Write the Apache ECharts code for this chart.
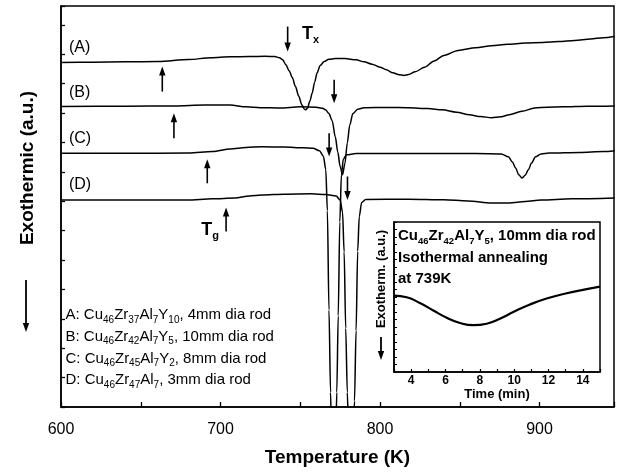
<!DOCTYPE html>
<html><head><meta charset="utf-8">
<script src="https://cdn.jsdelivr.net/npm/echarts@6/dist/echarts.min.js"></script>
<style>html,body{margin:0;padding:0;background:#fff}#c{width:621px;height:474px}</style>
</head><body><div id="c"></div>
<script>
// ---- data (Temperature K, exothermic signal a.u., curves offset) ----
const curveA = [[600,11.72],[620,11.73],[640,11.74],[661,11.75],[680,11.82],[694,11.88],[706,11.91],[718,11.92],[728,11.93],[734,11.92],[737,11.88],[739,11.81],[741,11.64],[743,11.44],[745,11.21],[747,10.90],[749,10.58],[751,10.28],[752.5,10.14],[753.5,10.11],[754.5,10.16],[756,10.40],[757.5,10.68],[759,11.05],[760.6,11.37],[762.5,11.62],[765,11.75],[768,11.83],[772,11.85],[778,11.85],[785,11.81],[790,11.74],[795,11.66],[800,11.56],[804,11.47],[808,11.37],[812,11.30],[815,11.28],[818,11.31],[822,11.40],[828,11.56],[834,11.77],[840,11.96],[849,12.13],[860,12.22],[870,12.29],[880,12.34],[891,12.38],[902,12.40],[912,12.43],[922,12.47],[932,12.52],[940,12.56],[947,12.60]];
const curveB = [[600,10.22],[640,10.23],[671,10.24],[690,10.27],[706,10.27],[716,10.21],[725,10.18],[737,10.17],[750,10.21],[760,10.20],[764,10.16],[766,10.10],[768,9.98],[770,9.74],[772,9.18],[773.5,8.68],[775,8.18],[776.5,7.90],[778,8.28],[779.5,8.98],[781,9.58],[783,9.98],[786,10.13],[790,10.18],[805,10.19],[818,10.18],[830,10.15],[839,10.11],[848,10.03],[856,9.94],[863,9.88],[870,9.84],[876,9.87],[881,9.94],[889,10.06],[897,10.17],[905,10.20],[915,10.21],[930,10.23],[947,10.24]];
const curveC = [[600,8.63],[640,8.63],[680,8.64],[695,8.69],[706,8.78],[716,8.83],[726,8.85],[740,8.84],[752,8.82],[758,8.80],[762,8.72],[764.5,8.53],[766,8.08],[767,6.68],[768,3.30],[769,0.50],[769.6,-1.00],[772.3,-1.00],[772.9,0.50],[773.8,3.10],[774.8,6.30],[775.8,7.90],[777,8.43],[779,8.58],[785,8.62],[820,8.62],[860,8.62],[876,8.61],[880.5,8.51],[883,8.33],[885,8.13],[887,7.90],[889,7.79],[891,7.88],[893,8.07],[895,8.30],[897.5,8.51],[901,8.61],[906,8.64],[925,8.66],[940,8.69],[947,8.72]];
const curveD = [[600,7.04],[640,7.04],[679,7.04],[695,7.08],[709,7.11],[718,7.18],[726,7.21],[740,7.24],[757,7.25],[766,7.23],[772.5,7.18],[775,7.04],[776.5,6.63],[777.5,5.28],[778.5,2.68],[779.5,0.50],[780.3,-1.00],[783.3,-1.00],[784,0.20],[785,2.60],[786,5.30],[787,6.48],[788.5,6.96],[791,7.06],[818,7.07],[840,7.05],[855,7.01],[870,6.94],[881,6.94],[891,6.99],[901,7.04],[920,7.08],[947,7.11]];
// inset: time (min) vs exothermic signal (a.u.)
const insetTime = [3,3.74,4.51,5.29,6.07,6.84,7.62,8.40,9.17,9.95,10.92,11.89,13.06,14.22,15];
const insetSignal = [5.09,4.98,4.60,4.10,3.62,3.27,3.12,3.22,3.55,4.00,4.50,4.90,5.25,5.52,5.69];
// tick labels
const xTickLabels = [600,700,800,900];
const insetTickLabels = [4,6,8,10,12,14];
// curve labels and annotation texts
const curveLabels = ['(A)','(B)','(C)','(D)'];
const curveLabelAt = [[605,12.21],[605,10.68],[605,9.14],[605,7.56]];
const tgArrows = [[663.5,10.73,11.58],[670.8,9.14,9.99],[691.7,7.61,8.43],[703.5,5.97,6.79]];
const txArrows = [[742.1,12.94,12.09],[771.25,11.13,10.33],[768.1,9.31,8.52],[779.6,7.84,7.04]];
const legendLines = [
  ['A: Cu','46','Zr','37','Al','7','Y','10',', 4mm dia rod'],
  ['B: Cu','46','Zr','42','Al','7','Y','5',', 10mm dia rod'],
  ['C: Cu','46','Zr','45','Al','7','Y','2',', 8mm dia rod'],
  ['D: Cu','46','Zr','47','Al','7',', 3mm dia rod']
];
const insetLines = [
  ['Cu','46','Zr','42','Al','7','Y','5',', 10mm dia rod'],
  ['Isothermal annealing'],
  ['at 739K']
];

const FF = "'Liberation Sans', Arial, Helvetica, sans-serif";
const chart = echarts.init(document.getElementById('c'), null, {renderer:'canvas'});

function lineSeries(data, xi, w, sm, mono){
  const s = {type:'line', data:data, xAxisIndex:xi, yAxisIndex:xi, symbol:'none', smooth:sm,
    lineStyle:{color:'#000', width:w}, clip:true, silent:true, animation:false};
  if (mono) s.smoothMonotone = 'x';
  return s;
}

chart.setOption({
  animation:false,
  backgroundColor:'#fff',
  grid:[
    {left:61, right:7, top:6, bottom:67, show:true, borderColor:'#000', borderWidth:1.5, backgroundColor:'transparent'},
    {left:394, top:222, width:206, height:150, show:true, borderColor:'#000', borderWidth:1.5, backgroundColor:'#fff'}
  ],
  xAxis:[
    {gridIndex:0, type:'value', min:600, max:946.7, interval:50,
     axisLine:{lineStyle:{color:'#000', width:1.5}},
     axisTick:{inside:true, length:5, lineStyle:{color:'#000', width:1.3}},
     axisLabel:{color:'#000', fontSize:16, fontFamily:FF, margin:15,
       formatter:v => xTickLabels.indexOf(Math.round(v))>=0 && Math.abs(v-Math.round(v))<1e-6 ? String(Math.round(v)) : ''},
     splitLine:{show:false},
     name:'Temperature (K)', nameLocation:'middle', nameGap:41,
     nameTextStyle:{color:'#000', fontSize:19, fontWeight:'bold', fontFamily:FF}},
    {gridIndex:1, type:'value', min:3, max:15, interval:1,
     axisLine:{lineStyle:{color:'#000', width:1.5}},
     axisTick:{inside:true, length:3, lineStyle:{color:'#000', width:1.2}},
     axisLabel:{color:'#000', fontSize:12, fontWeight:'bold', fontFamily:FF, margin:3,
       formatter:v => insetTickLabels.indexOf(v)>=0 ? String(v) : ''},
     splitLine:{show:false},
     name:'Time (min)', nameLocation:'middle', nameGap:14,
     nameTextStyle:{color:'#000', fontSize:13, fontWeight:'bold', fontFamily:FF}}
  ],
  yAxis:[
    {gridIndex:0, type:'value', min:0, max:13.64, interval:1,
     axisLine:{lineStyle:{color:'#000', width:1.5}},
     axisTick:{inside:true, length:4, lineStyle:{color:'#000', width:1.3}},
     axisLabel:{show:false}, splitLine:{show:false}},
    {gridIndex:1, type:'value', min:0, max:10, interval:0.5,
     axisLine:{lineStyle:{color:'#000', width:1.5}},
     axisTick:{inside:true, length:3, lineStyle:{color:'#000', width:1}},
     axisLabel:{show:false}, splitLine:{show:false}}
  ],
  series:[
    lineSeries(curveA,0,1.5,0.3,true), lineSeries(curveB,0,1.5,0.3,true), lineSeries(curveC,0,1.5,0.3,true), lineSeries(curveD,0,1.5,0.3,true),
    lineSeries(insetTime.map((t,i)=>[t,insetSignal[i]]),1,2.2,0.5,false)
  ]
});

function px(p){ return chart.convertToPixel({gridIndex:0}, p); }
function arrowEls(x, yTail, yHead, w){
  const dir = yHead > yTail ? 1 : -1;
  const hl = 9, hw = 3.2;
  return [
    {type:'line', shape:{x1:x, y1:yTail, x2:x, y2:yHead - dir*hl*0.6}, style:{stroke:'#000', lineWidth:w||1.6}, silent:true},
    {type:'polygon', shape:{points:[[x-hw, yHead-dir*hl],[x+hw, yHead-dir*hl],[x, yHead]]}, style:{fill:'#000'}, silent:true}
  ];
}
function richLine(parts, size, sub, bold){
  let s = '';
  parts.forEach((p,i)=>{ s += (i%2===0 ? '{n|' : '{s|') + p + '}'; });
  return {text:s, rich:{
    n:{fontSize:size, fontFamily:FF, fontWeight:bold?'bold':'normal', lineHeight:size+5, fill:'#000', color:'#000'},
    s:{fontSize:sub, fontFamily:FF, fontWeight:bold?'bold':'normal', lineHeight:sub, verticalAlign:'bottom', fill:'#000', color:'#000'}
  }};
}

const g = [];
curveLabels.forEach((t,i)=>{
  const p = px(curveLabelAt[i]);
  g.push({type:'text', x:p[0], y:p[1], style:{text:t, font:'16px '+FF, fill:'#000', textVerticalAlign:'middle', textAlign:'left'}, silent:true});
});
tgArrows.concat(txArrows).forEach(a=>{
  const p1 = px([a[0],a[1]]), p2 = px([a[0],a[2]]);
  arrowEls(p1[0], p1[1], p2[1]).forEach(e=>g.push(e));
});
{
  const p = px([751.1, 12.68]);
  g.push({type:'text', x:p[0], y:p[1], style:Object.assign({textVerticalAlign:'middle', textAlign:'left'}, richLine(['T','x'], 18, 11, true)), silent:true});
  const q = px([687.9, 6.02]);
  g.push({type:'text', x:q[0], y:q[1], style:Object.assign({textVerticalAlign:'middle', textAlign:'left'}, richLine(['T','g'], 18, 11, true)), silent:true});
}
legendLines.forEach((parts,i)=>{
  g.push({type:'text', x:65.5, y:315 + i*21.7, style:Object.assign({textVerticalAlign:'middle', textAlign:'left'}, richLine(parts, 15, 10, false)), silent:true});
});
insetLines.forEach((parts,i)=>{
  g.push({type:'text', x:398, y:236 + i*21.5, style:Object.assign({textVerticalAlign:'middle', textAlign:'left'}, richLine(parts, 15, 9.5, true)), silent:true});
});
g.push({type:'text', x:28, y:168, rotation:Math.PI/2, style:{text:'Exothermic (a.u.)', font:'bold 19px '+FF, fill:'#000', textAlign:'center', textVerticalAlign:'middle'}, silent:true});
arrowEls(26, 280, 332, 1.8).forEach(e=>g.push(e));
g.push({type:'text', x:381, y:279, rotation:Math.PI/2, style:{text:'Exotherm. (a.u.)', font:'bold 13px '+FF, fill:'#000', textAlign:'center', textVerticalAlign:'middle'}, silent:true});
arrowEls(381, 337, 360, 1.8).forEach(e=>g.push(e));

chart.setOption({graphic:{elements:g}});
</script></body></html>
